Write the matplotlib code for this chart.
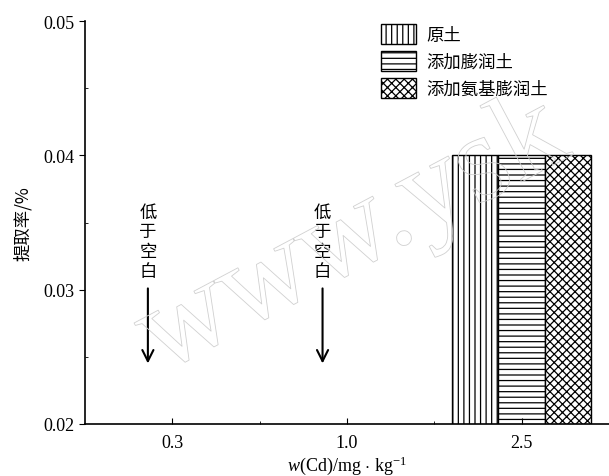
import matplotlib.pyplot as plt
import matplotlib.patheffects as pe
import numpy as np

categories = ['0.3', '1.0', '2.5']
series = ['原土', '添加膨润土', '添加氨基膨润土']
hatches = ['|||', '---', 'xxxx']
# only the 2.5 group has values; the others are below blank
values = [
    [np.nan, np.nan, 0.04],
    [np.nan, np.nan, 0.04],
    [np.nan, np.nan, 0.04],
]
below_blank = [0, 1]

plt.rcParams['font.family'] = ['Liberation Serif', 'Noto Sans CJK SC']
plt.rcParams['hatch.linewidth'] = 0.9
plt.rcParams['mathtext.fontset'] = 'custom'
plt.rcParams['mathtext.rm'] = 'Liberation Serif'
plt.rcParams['mathtext.it'] = 'Liberation Serif:italic'
cjk = ['Noto Sans CJK SC', 'Liberation Serif']

fig = plt.figure(figsize=(6.09, 4.77), dpi=100)
ax = fig.add_axes([85 / 609, 52 / 477, 524 / 609, 403 / 477])

x = np.arange(len(categories))
w = 0.266
for i, (name, h) in enumerate(zip(series, hatches)):
    ax.bar(x + (i - 1) * w, values[i], w, bottom=0, label=name, hatch=h,
           facecolor='white', edgecolor='black', linewidth=1.0)

for k in below_blank:
    ax.annotate('', xy=(k - 0.14, 0.0243), xytext=(k - 0.14, 0.0303),
                arrowprops=dict(arrowstyle='->', color='black', lw=1.5,
                                mutation_scale=20))
    ax.text(k - 0.14, 0.0336, '低\n于\n空\n白', ha='center', va='center',
            fontsize=12.5, family=cjk, linespacing=1.12)

ax.set_xlim(-0.5, 2.5)
ax.set_ylim(0.02, 0.05)
ax.set_xticks(x)
ax.set_xticklabels(categories)
ax.set_xticks([0.5, 1.5], minor=True)
ax.set_yticks([0.02, 0.03, 0.04, 0.05])
ax.set_yticklabels(['0.02', '0.03', '0.04', '0.05'])
ax.set_yticks([0.025, 0.035, 0.045], minor=True)
ax.tick_params(axis='x', which='major', direction='in', length=4, labelsize=13, pad=7)
ax.tick_params(axis='x', which='minor', direction='in', length=2)
ax.tick_params(axis='y', which='major', direction='out', length=4, labelsize=13)
ax.tick_params(axis='y', which='minor', direction='in', length=2)
for s in ['top', 'right']:
    ax.spines[s].set_visible(False)
ax.spines['left'].set_linewidth(1.2)
ax.spines['bottom'].set_linewidth(1.2)

ax.set_ylabel('提取率/%', family=cjk, fontsize=12.5, labelpad=8)
ax.set_xlabel(r'$\mathit{w}$(Cd)/mg $\cdot$ kg$^{-1}$', fontsize=13, labelpad=2)

leg = ax.legend(loc='upper left', bbox_to_anchor=(289 / 524, 1.01), frameon=False,
                prop={'family': cjk, 'size': 12.5}, handlelength=2.0, handleheight=1.4,
                labelspacing=0.4, handletextpad=0.6, borderaxespad=0)

# faint outlined watermark
fig.text(0.58, 0.50, 'www.ysk', fontsize=90, rotation=28, ha='center', va='center',
         color='none', family='Liberation Serif', zorder=10,
         path_effects=[pe.Stroke(linewidth=0.6, foreground='#d0d0d0')])

fig.savefig('out.png', dpi=100)
